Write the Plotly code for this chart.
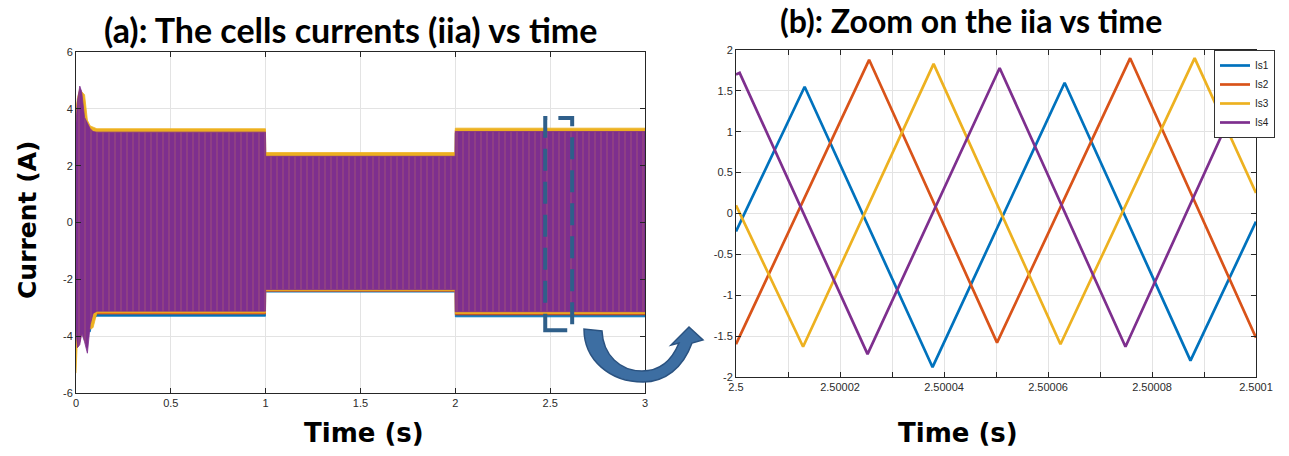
import plotly.graph_objects as go

W, H = 1289, 456

# ---------------- Data: (a) envelope of cell currents over 0..3 s ----------------
t_env = [0.0, 0.008, 0.02, 0.03, 0.045, 0.06, 0.075, 0.09, 0.11, 0.999, 1.0, 1.999, 2.0, 3.0]

is1_up = [3.5, 4.0, 4.4, 4.2, 3.8, 3.4, 3.2, 3.2, 3.15, 3.15, 2.32, 2.32, 3.15, 3.15]
is1_lo = [-4.0, -4.2, -4.1, -3.8, -3.7, -3.8, -3.85, -3.4, -3.3, -3.3, -2.45, -2.45, -3.32, -3.32]
is2_up = [3.8, 4.2, 4.6, 4.4, 4.0, 3.5, 3.35, 3.28, 3.22, 3.22, 2.42, 2.42, 3.25, 3.25]
is2_lo = [-4.4, -4.4, -4.2, -3.9, -3.9, -4.0, -3.6, -3.3, -3.22, -3.22, -2.42, -2.42, -3.25, -3.25]
is3_up = [4.0, 4.4, 4.7, 4.6, 4.5, 3.6, 3.4, 3.35, 3.3, 3.3, 2.46, 2.46, 3.32, 3.32]
is3_lo = [-5.3, -4.0, -3.9, -3.8, -3.7, -3.6, -3.75, -3.7, -3.18, -3.18, -2.4, -2.4, -3.2, -3.2]
is4_up = [3.5, 4.3, 4.8, 4.6, 3.7, 3.5, 3.3, 3.2, 3.18, 3.18, 2.33, 2.33, 3.2, 3.2]
is4_lo = [-3.8, -4.4, -4.3, -3.9, -4.2, -4.6, -3.6, -3.2, -3.12, -3.12, -2.36, -2.36, -3.14, -3.14]

# ---------------- Data: (b) zoom, triangle vertices ----------------
is1_t = [2.5, 2.5000132, 2.5000378, 2.5000632, 2.5000874, 2.5001]
is1_v = [-0.22, 1.55, -1.88, 1.6, -1.8, -0.1]
is2_t = [2.5, 2.5000256, 2.5000502, 2.5000758, 2.5001]
is2_v = [-1.6, 1.88, -1.58, 1.9, -1.52]
is3_t = [2.5, 2.5000129, 2.500038, 2.5000624, 2.5000882, 2.5001]
is3_v = [0.1, -1.63, 1.83, -1.6, 1.9, 0.25]
is4_t = [2.5, 2.5000007, 2.5000253, 2.5000507, 2.5000749, 2.5001]
is4_v = [1.7, 1.72, -1.72, 1.78, -1.63, 1.88]

names = ["Is1", "Is2", "Is3", "Is4"]
colors = ["#0072BD", "#D95319", "#EDB120", "#7E2F8E"]

# tick labels
a_xticks = [0, 0.5, 1, 1.5, 2, 2.5, 3]
a_xtext = ["0", "0.5", "1", "1.5", "2", "2.5", "3"]
a_yticks = [-6, -4, -2, 0, 2, 4, 6]
a_ytext = ["-6", "-4", "-2", "0", "2", "4", "6"]
b_xticks = [2.5 + k * 1e-5 for k in range(11)]
b_xtext = ["2.5", "", "2.50002", "", "2.50004", "", "2.50006", "", "2.50008", "", "2.5001"]
b_yticks = [-2, -1.5, -1, -0.5, 0, 0.5, 1, 1.5, 2]
b_ytext = ["-2", "-1.5", "-1", "-0.5", "0", "0.5", "1", "1.5", "2"]


def px(x):
    return x / W


def py(y):
    return 1 - y / H


fig = go.Figure()

# ---- (a) envelopes: blue, orange, yellow, purple on top ----
env = [(is1_up, is1_lo), (is2_up, is2_lo), (is3_up, is3_lo), (is4_up, is4_lo)]
for i, (up, lo) in enumerate(env):
    kw = {}
    if i == 3:
        kw["fillpattern"] = dict(shape="|", bgcolor=colors[3], fgcolor="#E0904E",
                                 fgopacity=0.45, size=6, solidity=0.12)
    fig.add_trace(go.Scatter(
        x=t_env + t_env[::-1], y=up + lo[::-1], fill="toself",
        fillcolor=colors[i], line=dict(color=colors[i], width=0.8),
        mode="lines", showlegend=False, hoverinfo="skip",
        xaxis="x", yaxis="y", **kw))

# ---- (b) zoom lines ----
for t, v, n, c in zip([is1_t, is2_t, is3_t, is4_t], [is1_v, is2_v, is3_v, is4_v], names, colors):
    fig.add_trace(go.Scatter(x=t, y=v, mode="lines", name=n,
                             line=dict(color=c, width=2.7),
                             xaxis="x2", yaxis="y2"))

axis_common = dict(showline=True, linecolor="#262626", linewidth=1, mirror="ticks",
                   ticks="inside", ticklen=5, tickcolor="#262626", automargin=False,
                   showgrid=True, gridcolor="#e3e3e3", gridwidth=1, zeroline=False,
                   tickfont=dict(family="Liberation Sans, Arial", size=11, color="#2b2b2b"))

fig.update_layout(
    width=W, height=H, margin=dict(l=0, r=0, t=0, b=0, autoexpand=False),
    paper_bgcolor="white", plot_bgcolor="white",
    xaxis=dict(domain=[px(76), px(645)], range=[0, 3], tickvals=a_xticks, ticktext=a_xtext,
               anchor="y", **axis_common),
    yaxis=dict(domain=[py(393), py(52)], range=[-6, 6], tickvals=a_yticks, ticktext=a_ytext,
               anchor="x", **axis_common),
    xaxis2=dict(domain=[px(736), px(1256)], range=[2.5, 2.5001], tickvals=b_xticks,
                ticktext=b_xtext, anchor="y2", **axis_common),
    yaxis2=dict(domain=[py(377), py(50)], range=[-2, 2], tickvals=b_yticks, ticktext=b_ytext,
                anchor="x2", **axis_common),
    legend=dict(x=px(1275), xanchor="right", y=py(50), yanchor="top",
                bgcolor="white", bordercolor="#333333", borderwidth=1,
                font=dict(family="Liberation Sans, Arial", size=10, color="#222"),
                tracegroupgap=0, itemwidth=30),
    showlegend=True,
)

title_font = dict(family="Lato, Open Sans", size=34, color="black")
label_font = dict(family="DejaVu Sans", size=26, color="black")
ann = [
    dict(text="<b>(a): The cells currents (iia) vs time</b>", x=px(350), y=py(29), font=title_font),
    dict(text="<b>(b): Zoom on the iia vs time</b>", x=px(971), y=py(21),
         font=dict(family="Lato, Open Sans", size=32, color="black")),
    dict(text="<b>Time (s)</b>", x=px(364), y=py(433), font=label_font),
    dict(text="<b>Time (s)</b>", x=px(958), y=py(433), font=label_font),
    dict(text="<b>Current (A)</b>", x=px(28), y=py(220), textangle=-90,
         font=dict(family="DejaVu Sans", size=25, color="black")),
]
for a in ann:
    fig.add_annotation(xref="paper", yref="paper", showarrow=False,
                       xanchor="center", yanchor="middle", **a)

# dashed zoom box on (a)
fig.add_shape(type="rect", xref="x", yref="y", x0=2.474, x1=2.616, y0=-3.79, y1=3.68,
              line=dict(color="#2F5F8A", width=4, dash="22px,11px"))

# curved arrow (pixel path -> paper coords)
pts = [
    ("M", [(584, 329)]),
    ("C", [(584, 360), (610, 382), (643, 382)]),
    ("C", [(665, 382), (683, 368), (692, 343)]),
    ("L", [(703, 340)]),
    ("L", [(689, 327)]),
    ("L", [(671, 345)]),
    ("L", [(679, 343)]),
    ("C", [(672, 360), (660, 371), (642, 371)]),
    ("C", [(620, 371), (603, 355), (602, 331)]),
]
path = ""
for cmd, ps in pts:
    path += cmd + " " + " ".join(f"{px(x):.5f},{py(y):.5f}" for x, y in ps) + " "
path += "Z"
fig.add_shape(type="path", xref="paper", yref="paper", path=path,
              fillcolor="#3D6EA2", line=dict(color="#2A5280", width=1.5))

fig.write_html("out.html")
